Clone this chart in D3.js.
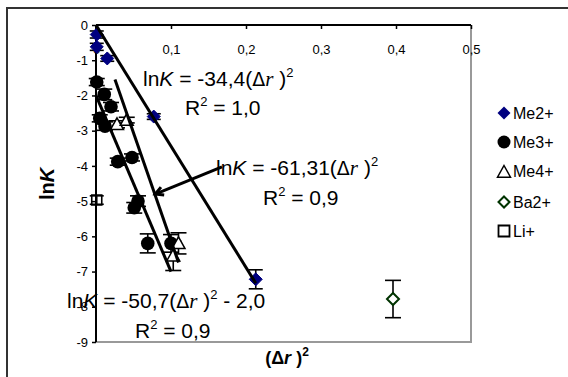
<!DOCTYPE html>
<html><head><meta charset="utf-8">
<script src="https://cdn.jsdelivr.net/npm/d3@7"></script>
<style>body{margin:0;background:#fff}svg{display:block;font-family:"Liberation Sans",Arial,sans-serif}</style>
</head><body>
<script>
// ---- data ----
const xTicks = [0, 0.1, 0.2, 0.3, 0.4, 0.5];
const yTicks = [0, -1, -2, -3, -4, -5, -6, -7, -8, -9];
const me2X = [0.001, 0.001, 0.015, 0.077, 0.213];
const me2Y = [-0.27, -0.62, -0.95, -2.6, -7.22];
const me2E = [0.1, 0.1, 0.08, 0.08, 0.27];
const me3X = [0.001, 0.011, 0.020, 0.005, 0.012, 0.029, 0.048, 0.051, 0.056, 0.069, 0.100];
const me3Y = [-1.62, -1.97, -2.32, -2.65, -2.87, -3.88, -3.76, -5.19, -5.0, -6.2, -6.2];
const me3E = [0.1, 0.15, 0.12, 0.1, 0.12, 0.1, 0.1, 0.15, 0.15, 0.27, 0.25];
const me4X = [0.028, 0.041, 0.110, 0.103];
const me4Y = [-2.82, -2.70, -6.2, -6.55];
const me4E = [0.1, 0.08, 0.3, 0.42];
const ba2X = [0.396];
const ba2Y = [-7.78];
const ba2E = [0.53];
const liX = [0.001];
const liY = [-4.97];
const liE = [0.12];
const fitA = [[0, 0], [0.213, -7.33]];
const fitB = [[0.0253, -1.55], [0.110, -6.74]];
const fitC = [[0, -2.0], [0.100, -7.0]];
const arrowFrom = [0.168, -4.03];
const arrowTo = [0.079, -4.8];
const legendNames = ["Me2+", "Me3+", "Me4+", "Ba2+", "Li+"];

// ---- chart ----
const W = 568, H = 377;
const svg = d3.select("body").append("svg").attr("width", W).attr("height", H);
const x = d3.scaleLinear().domain([0, 0.5]).range([96, 471]);
const y = d3.scaleLinear().domain([0, -9]).range([25, 342]);

// outer frame
svg.append("path").attr("d", `M7,${H+5}V8H${W+5}`).attr("fill", "none").attr("stroke", "#333").attr("stroke-width", 2);

// plot border (right & bottom gray)
svg.append("path").attr("d", `M${x(0)},${y(-9)}H${x(0.5)}V${y(0)}`).attr("fill", "none").attr("stroke", "#999").attr("stroke-width", 2);

const fmt = d => d === 0 ? "0" : String(d).replace(".", ",").replace("\u2212", "-");
// x axis along top
const gx = svg.append("g").attr("transform", `translate(0,${y(0)})`)
  .call(d3.axisBottom(x).tickValues(xTicks).tickSize(4).tickPadding(16).tickFormat(fmt));
gx.select(".domain").remove();
gx.selectAll("text").attr("font-size", 13).attr("font-family", "Liberation Sans, Arial");
gx.selectAll("line").attr("stroke", "#000").attr("stroke-width", 1.5);

const gy = svg.append("g").attr("transform", `translate(${x(0)},0)`)
  .call(d3.axisLeft(y).tickValues(yTicks).tickSize(4).tickPadding(4).tickFormat(fmt));
gy.select(".domain").remove();
gy.selectAll("text").attr("font-size", 13).attr("font-family", "Liberation Sans, Arial");
gy.selectAll("line").attr("stroke", "#000").attr("stroke-width", 1.5);

// axis lines
svg.append("line").attr("x1", x(0)).attr("x2", x(0.5)).attr("y1", y(0)).attr("y2", y(0)).attr("stroke", "#000").attr("stroke-width", 2);
svg.append("line").attr("x1", x(0)).attr("x2", x(0)).attr("y1", y(0)).attr("y2", y(-9)).attr("stroke", "#000").attr("stroke-width", 2);

// error bars
function errBars(xs, ys, es, cap) {
  const g = svg.append("g").attr("stroke", "#000").attr("stroke-width", 1.6);
  xs.forEach((xv, i) => {
    const cx = x(xv), y1 = y(ys[i] + es[i]), y2 = y(ys[i] - es[i]);
    g.append("line").attr("x1", cx).attr("x2", cx).attr("y1", y1).attr("y2", y2);
    g.append("line").attr("x1", cx - cap).attr("x2", cx + cap).attr("y1", y1).attr("y2", y1);
    g.append("line").attr("x1", cx - cap).attr("x2", cx + cap).attr("y1", y2).attr("y2", y2);
  });
}
errBars(me2X, me2Y, me2E, 7);
errBars(me3X, me3Y, me3E, 8);
errBars(me4X, me4Y, me4E, 8);
errBars(ba2X, ba2Y, ba2E, 8);
errBars(liX, liY, liE, 7);

// markers
const diamond = s => `M0,${-s}L${s},0L0,${s}L${-s},0Z`;
const tri = s => `M0,${-s}L${s},${s*0.8}L${-s},${s*0.8}Z`;
const sq = s => `M${-s},${-s}H${s}V${s}H${-s}Z`;
function markers(xs, ys, pathFn, fill, stroke, sw) {
  xs.forEach((xv, i) => {
    svg.append("path").attr("d", pathFn).attr("transform", `translate(${x(xv)},${y(ys[i])})`)
      .attr("fill", fill).attr("stroke", stroke).attr("stroke-width", sw);
  });
}
markers(me2X, me2Y, diamond(6.5), "#000080", "#000080", 1);
me3X.forEach((xv, i) => svg.append("circle").attr("cx", x(xv)).attr("cy", y(me3Y[i])).attr("r", 6.8).attr("fill", "#000"));
markers(me4X, me4Y, tri(6.5), "#fff", "#000", 1.5);
markers(ba2X, ba2Y, diamond(6), "#fff", "#003300", 2);
markers(liX, liY, sq(5), "none", "#000", 1.6);

// fit lines
const line = d3.line().x(d => x(d[0])).y(d => y(d[1]));
[fitA, fitB, fitC].forEach(f => svg.append("path").attr("d", line(f)).attr("fill", "none").attr("stroke", "#000").attr("stroke-width", 3));

// arrow
const ax1 = x(arrowFrom[0]), ay1 = y(arrowFrom[1]), ax2 = x(arrowTo[0]), ay2 = y(arrowTo[1]);
svg.append("line").attr("x1", ax1).attr("y1", ay1).attr("x2", ax2).attr("y2", ay2).attr("stroke", "#000").attr("stroke-width", 3);
{
  const ang = Math.atan2(ay2 - ay1, ax2 - ax1), L = 9, sp = 0.5;
  const p1 = [ax2 - L * Math.cos(ang - sp), ay2 - L * Math.sin(ang - sp)];
  const p2 = [ax2 - L * Math.cos(ang + sp), ay2 - L * Math.sin(ang + sp)];
  svg.append("path").attr("d", `M${p1}L${ax2},${ay2}L${p2}`).attr("fill", "none").attr("stroke", "#000").attr("stroke-width", 3);
}

// equation texts
const FS = 21;
function eq(tx, ty, coef, tail) {
  const t = svg.append("text").attr("x", tx).attr("y", ty).attr("font-size", FS).attr("fill", "#000");
  t.append("tspan").text("ln");
  t.append("tspan").attr("font-style", "italic").text("K");
  t.append("tspan").text(" = " + coef + "(");
  t.append("tspan").attr("font-family", "DejaVu Sans").attr("font-size", 19).text("\u0394");
  t.append("tspan").attr("font-family", "Liberation Serif").attr("font-style", "italic").text("r");
  t.append("tspan").text(" )");
  t.append("tspan").attr("font-size", 13).attr("dy", -9).text("2");
  if (tail) t.append("tspan").attr("dy", 9).text(tail);
}
function r2(tx, ty, val) {
  const t = svg.append("text").attr("x", tx).attr("y", ty).attr("font-size", FS).attr("fill", "#000");
  t.append("tspan").text("R");
  t.append("tspan").attr("font-size", 13).attr("dy", -9).text("2");
  t.append("tspan").attr("dy", 9).text(" = " + val);
}
eq(143, 86, "-34,4");
r2(185, 115, "1,0");
eq(216, 175, "-61,31");
r2(263, 205, "0,9");
eq(67, 308, "-50,7", " - 2,0");
r2(135, 338, "0,9");

// axis titles
{
  const t = svg.append("text").attr("x", 287).attr("y", 364).attr("text-anchor", "middle").attr("font-size", 18).attr("font-weight", "bold");
  t.append("tspan").text("(");
  t.append("tspan").text("\u0394");
  t.append("tspan").attr("font-style", "italic").text("r");
  t.append("tspan").text(" )");
  t.append("tspan").attr("font-size", 12).attr("dy", -8).text("2");
}
{
  const t = svg.append("text").attr("transform", "translate(54,184) rotate(-90)").attr("text-anchor", "middle").attr("font-size", 20).attr("font-weight", "bold");
  t.append("tspan").text("ln");
  t.append("tspan").attr("font-style", "italic").text("K");
}

// legend
const legY = [113, 142, 171, 202, 231];
const lg = svg.append("g");
const lx = 504;
lg.append("path").attr("d", diamond(6.5)).attr("transform", `translate(${lx},${legY[0]})`).attr("fill", "#000080");
lg.append("circle").attr("cx", lx).attr("cy", legY[1]).attr("r", 6.5).attr("fill", "#000");
lg.append("path").attr("d", tri(6.5)).attr("transform", `translate(${lx},${legY[2] + 1})`).attr("fill", "#fff").attr("stroke", "#000").attr("stroke-width", 1.5);
lg.append("path").attr("d", diamond(5.5)).attr("transform", `translate(${lx},${legY[3]})`).attr("fill", "#fff").attr("stroke", "#003300").attr("stroke-width", 2);
lg.append("path").attr("d", sq(5.5)).attr("transform", `translate(${lx},${legY[4]})`).attr("fill", "none").attr("stroke", "#000").attr("stroke-width", 1.8);
legendNames.forEach((n, i) => lg.append("text").attr("x", 513).attr("y", legY[i] + 6).attr("font-size", 16).text(n));
</script>
</body></html>
